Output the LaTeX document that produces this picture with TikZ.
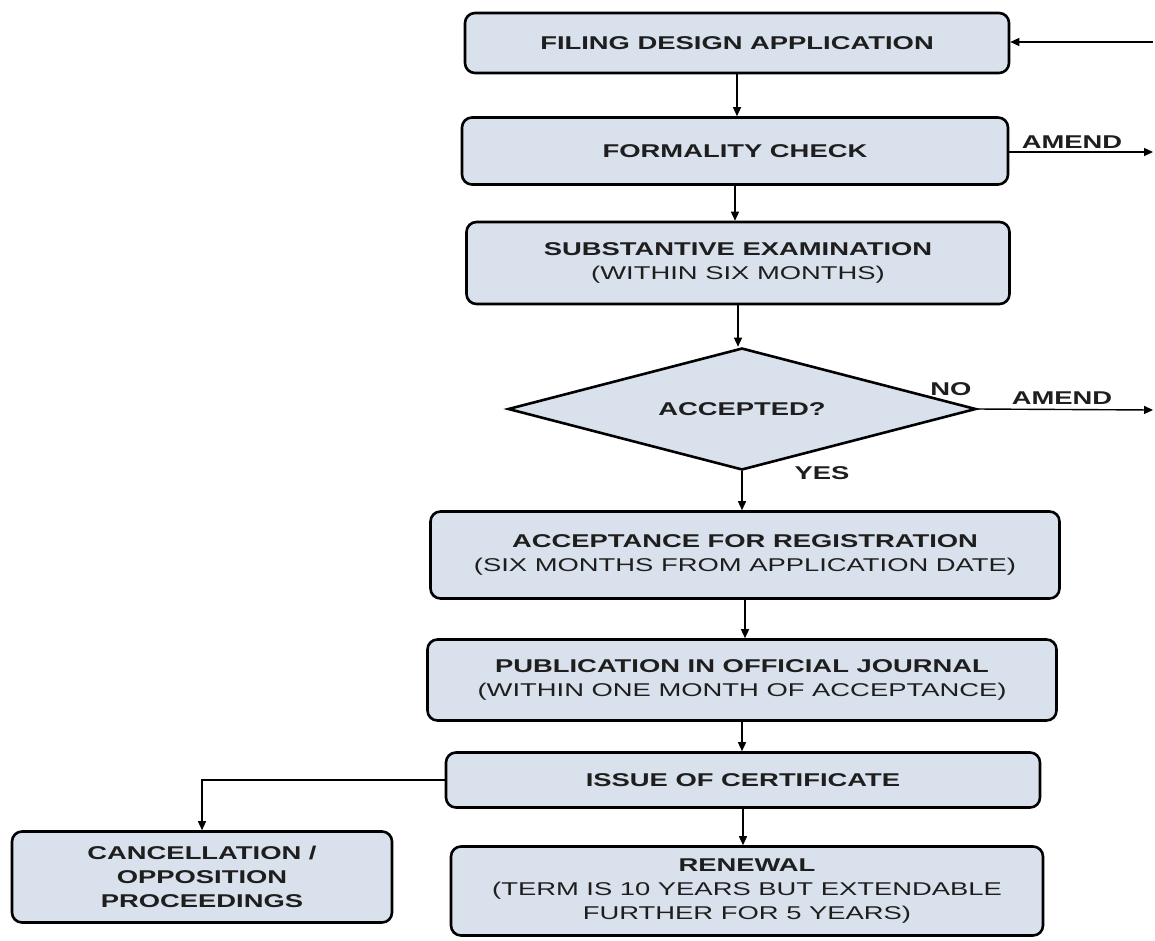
\documentclass[tikz,border=0pt]{standalone}
\usepackage{fontspec}
\newfontfamily\flowfont[FakeStretch=1.48]{Liberation Sans}
\usetikzlibrary{arrows.meta,shapes.geometric,calc}
\definecolor{BoxFill}{HTML}{D9E1EC}
\definecolor{InkGray}{HTML}{1E1E1E}

\begin{document}
\begin{tikzpicture}[x=1pt,y=-1pt,
    stepbox/.style={draw=black,line width=2.6pt,rounded corners=10pt,fill=BoxFill,inner sep=0pt,align=center,text=InkGray,font=\flowfont\fontsize{18.5}{24}\selectfont},
    decision/.style={diamond,aspect=3.84,draw=black,line width=2.6pt,fill=BoxFill,inner sep=0pt,minimum width=468pt,minimum height=122pt,text=InkGray,font=\flowfont\fontsize{18.5}{24}\selectfont\bfseries},
    lbl/.style={inner sep=0pt,text=InkGray,font=\flowfont\fontsize{18.5}{24}\selectfont\bfseries},
    flow/.style={-{Triangle[length=9pt,width=8pt]},line width=1.4pt}]
    \useasboundingbox (0,0) rectangle (1155,940);
    % main column
    \node[stepbox,minimum width=544pt,minimum height=60pt] (file) at (737,43) {\bfseries FILING DESIGN APPLICATION};
    \node[stepbox,minimum width=546pt,minimum height=67pt] (formal) at (735,151) {\bfseries FORMALITY CHECK};
    \node[stepbox,minimum width=543pt,minimum height=82pt] (subst) at (738,263) {\bfseries SUBSTANTIVE EXAMINATION\\(WITHIN SIX MONTHS)};
    \node[decision] (acc) at (742,409) {ACCEPTED?};
    \node[stepbox,minimum width=629pt,minimum height=87pt] (accept) at (745,555) {\bfseries ACCEPTANCE FOR REGISTRATION\\(SIX MONTHS FROM APPLICATION DATE)};
    \node[stepbox,minimum width=629pt,minimum height=81pt] (publ) at (742,680) {\bfseries PUBLICATION IN OFFICIAL JOURNAL\\(WITHIN ONE MONTH OF ACCEPTANCE)};
    \node[stepbox,minimum width=594pt,minimum height=55pt] (issue) at (743,780) {\bfseries ISSUE OF CERTIFICATE};
    \node[stepbox,minimum width=592pt,minimum height=89pt] (renew) at (747,891) {\bfseries RENEWAL\\(TERM IS 10 YEARS BUT EXTENDABLE\\FURTHER FOR 5 YEARS)};
    \node[stepbox,minimum width=380pt,minimum height=91pt,font=\flowfont\fontsize{18.5}{24}\selectfont\bfseries] (cancel) at (202,877) {CANCELLATION /\\OPPOSITION\\PROCEEDINGS};
    % loop back on the right edge
    \coordinate (back) at (1153,42);
    \coordinate (amendA) at (1153,152);
    \coordinate (amendB) at (1153,410);
    % connectors
    \draw[flow] (file.south) -- (file.south |- formal.north);
    \draw[flow] (formal.south) -- (formal.south |- subst.north);
    \draw[flow] (subst.south) -- (subst.south |- acc.north);
    \draw[flow] (acc.south) -- (acc.south |- accept.north);
    \draw[flow] (accept.south) -- (accept.south |- publ.north);
    \draw[flow] (publ.south) -- (publ.south |- issue.north);
    \draw[flow] (issue.south) -- (issue.south |- renew.north);
    \draw[flow] (issue.west) -| (cancel.north);
    \draw[flow] (back) -- (file.east |- back);
    \draw[flow] (formal.east |- amendA) -- (amendA);
    \draw[flow] (acc.east) -- (amendB);
    % labels
    \node[lbl] (amendAtxt) at (1072,142) {AMEND};
    \node[lbl] (notxt) at (951,389) {NO};
    \node[lbl] (amendBtxt) at (1062,398) {AMEND};
    \node[lbl] (yestxt) at (822,473) {YES};
\end{tikzpicture}
\end{document}
